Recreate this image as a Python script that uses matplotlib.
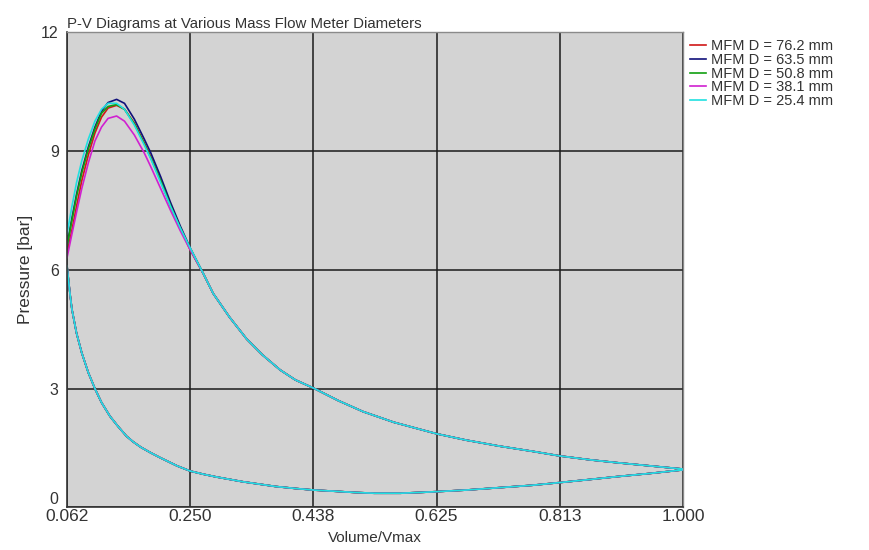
import matplotlib
matplotlib.use("Agg")
import matplotlib.pyplot as plt

plt.rcParams['font.family'] = ['Liberation Sans', 'DejaVu Sans']

# --- Series labels and colours ---
labels = ["MFM D = 76.2 mm", "MFM D = 63.5 mm", "MFM D = 50.8 mm",
          "MFM D = 38.1 mm", "MFM D = 25.4 mm"]
colors = ["#d01818", "#10107a", "#10a010", "#d020d0", "#20e0e0"]

# --- Expansion stroke near the pressure peak (differs per meter diameter) ---
v_peak = [0.0625, 0.07, 0.077, 0.085, 0.095, 0.105, 0.115, 0.125, 0.138,
          0.15, 0.165, 0.18, 0.19, 0.205, 0.22, 0.235, 0.25]
p_peak_762 = [6.4, 7.0, 7.6, 8.25, 8.9, 9.45, 9.85, 10.08, 10.15,
              10.05, 9.7, 9.2, 8.85, 8.25, 7.6, 7.05, 6.5]
p_peak_635 = [6.6, 7.3, 7.9, 8.5, 9.1, 9.6, 10.0, 10.22, 10.3,
              10.2, 9.8, 9.3, 8.95, 8.35, 7.7, 7.1, 6.55]
p_peak_508 = [6.6, 7.25, 7.85, 8.45, 9.05, 9.55, 9.95, 10.12, 10.17,
              10.05, 9.68, 9.18, 8.82, 8.25, 7.62, 7.05, 6.52]
p_peak_381 = [6.3, 6.9, 7.45, 8.05, 8.7, 9.25, 9.6, 9.82, 9.88,
              9.75, 9.4, 8.95, 8.6, 8.05, 7.5, 6.98, 6.5]
p_peak_254 = [6.9, 7.6, 8.2, 8.75, 9.3, 9.75, 10.05, 10.2, 10.2,
              10.05, 9.65, 9.15, 8.8, 8.2, 7.6, 7.05, 6.55]

# --- Expansion tail (same for every diameter) ---
v_tail = [0.27, 0.285, 0.31, 0.336, 0.36, 0.387, 0.41, 0.438, 0.475, 0.513,
          0.56, 0.625, 0.67, 0.72, 0.77, 0.813, 0.86, 0.9, 0.95, 1.0]
p_tail = [5.9, 5.4, 4.8, 4.25, 3.85, 3.47, 3.22, 3.01, 2.7, 2.42,
          2.15, 1.86, 1.7, 1.55, 1.42, 1.30, 1.2, 1.13, 1.05, 0.97]

# --- Compression / intake stroke (from Vmax back to clearance volume) ---
v_low = [1.0, 0.95, 0.9, 0.86, 0.813, 0.77, 0.72, 0.67, 0.625, 0.6, 0.57,
         0.53, 0.5, 0.47, 0.438, 0.41, 0.38, 0.355, 0.33, 0.31, 0.29, 0.27,
         0.25, 0.23, 0.204, 0.19, 0.175, 0.163, 0.153, 0.14, 0.128, 0.115,
         0.105, 0.095, 0.085, 0.077, 0.07, 0.067, 0.0625]
p_low = [0.95, 0.86, 0.78, 0.71, 0.63, 0.56, 0.5, 0.44, 0.40, 0.38, 0.36,
         0.36, 0.38, 0.41, 0.44, 0.48, 0.53, 0.59, 0.65, 0.71, 0.77, 0.84,
         0.92, 1.05, 1.26, 1.38, 1.52, 1.66, 1.8, 2.05, 2.3, 2.65,
         3.0, 3.4, 3.9, 4.4, 5.0, 5.4, 6.1]

peaks = [p_peak_762, p_peak_635, p_peak_508, p_peak_381, p_peak_254]

x_ticks = [0.0625, 0.25, 0.4375, 0.625, 0.8125, 1.0]
x_tick_labels = ["0.062", "0.250", "0.438", "0.625", "0.813", "1.000"]
y_ticks = [0, 3, 6, 9, 12]

text_col = "#333333"

fig = plt.figure(figsize=(8.69, 5.5), dpi=100)
ax = fig.add_axes([0.0771, 0.0773, 0.7089, 0.8645])
ax.set_facecolor("#d3d3d3")

for lab, col, p_peak in zip(labels, colors, peaks):
    v = v_peak + v_tail + v_low
    p = p_peak + p_tail + p_low
    ax.plot(v, p, color=col, lw=1.2, label=lab)

ax.set_xlim(0.0625, 1.0)
ax.set_ylim(0, 12)
ax.set_xticks(x_ticks)
ax.set_xticklabels(x_tick_labels)
ax.set_yticks(y_ticks)
ax.tick_params(axis="x", length=0, labelsize=12.5, pad=1, colors=text_col)
ax.tick_params(axis="y", length=0, labelsize=11.5, pad=6, colors=text_col)
# bottom y label sits just above the axis line
ax.get_yticklabels()[0].set_va("bottom")
ax.grid(True, color="#1a1a1a", lw=1.1)
ax.set_axisbelow(True)

for side in ["left", "bottom"]:
    ax.spines[side].set_color("#333333")
    ax.spines[side].set_linewidth(1.2)
for side in ["top", "right"]:
    ax.spines[side].set_color("#8a8a8a")
    ax.spines[side].set_linewidth(1.0)

ax.set_title("P-V Diagrams at Various Mass Flow Meter Diameters",
             loc="left", fontsize=10.8, pad=3, color=text_col)
ax.set_xlabel("Volume/Vmax", fontsize=11, labelpad=5, color=text_col)
ax.set_ylabel("Pressure [bar]", fontsize=12.5, labelpad=6, color=text_col)

ax.legend(loc="upper left", bbox_to_anchor=(1.0, 1.0), frameon=False,
          fontsize=10.5, handlelength=1.1, handletextpad=0.35,
          labelspacing=-0.02, borderaxespad=0.3, borderpad=0.2,
          labelcolor=text_col)

fig.savefig("out.png", dpi=100)
